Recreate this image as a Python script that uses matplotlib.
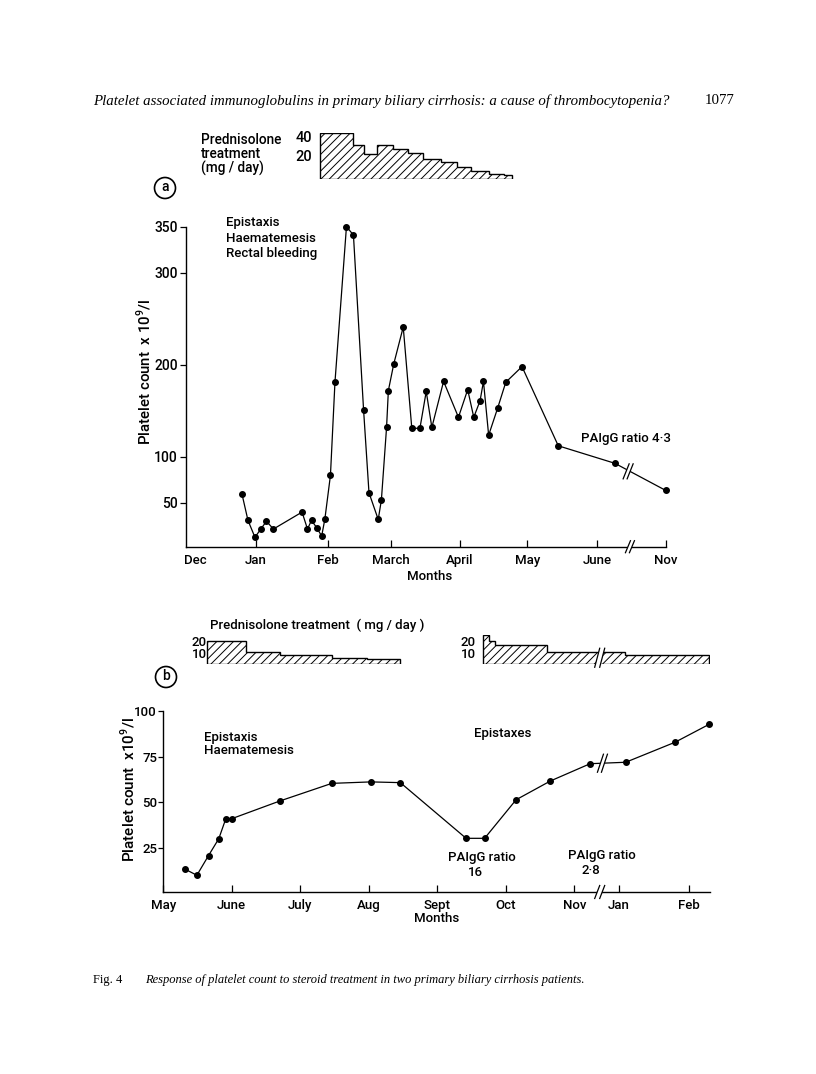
import numpy as np
import matplotlib
matplotlib.use("Agg")
import matplotlib.pyplot as plt
from matplotlib.lines import Line2D
from matplotlib.patches import Polygon, Circle
from matplotlib.transforms import IdentityTransform

plt.rcParams['font.family'] = ['Roboto', 'DejaVu Sans']
plt.rcParams['font.weight'] = 'medium'
plt.rcParams['font.size'] = 9.5
plt.rcParams['mathtext.fontset'] = 'custom'
plt.rcParams['mathtext.rm'] = 'Roboto:medium'
plt.rcParams['hatch.linewidth'] = 0.7

# ---------------- data: panel a (x = days since 1 Dec) ----------------
a_month_labels = ["Jan", "Feb", "March", "April", "May", "June", "Nov"]
a_month_pos = [31, 63, 91, 121.5, 151.5, 182.5, 213]
a_days = [24.8, 27.5, 30.6, 33.2, 35.7, 38.8, 51.5, 53.9, 55.7, 58.0, 60.2, 61.6,
          64.1, 66.1, 71.2, 74.3, 78.8, 81.2, 85.3, 86.7, 89.0, 89.8, 92.2, 96.4,
          100.2, 103.8, 106.6, 109.1, 114.3, 120.9, 125.0, 127.7, 130.5, 132.0, 134.3, 138.3,
          141.9, 149.1, 165.2, 190.3, 212.9]
a_platelets = [60, 31, 12.6, 21.6, 30, 21.6, 40, 21.6, 31, 23, 14, 32,
               80, 181, 350, 341, 151, 61, 32, 53, 132, 172, 201, 241,
               131, 131, 171, 132, 182, 143, 173, 143, 161, 182, 123.5, 153,
               181, 198, 112, 93, 63.5]
a_yticks = [50, 100, 200, 300, 350]
a_break_day = 197.0
a_pred_edges = [59.5, 74.0, 78.8, 84.7, 91.8, 98.3, 105.3, 113.3, 120.1, 126.3, 134.3, 141.1, 144.6]
a_pred_dose = [40, 30, 22, 30, 26, 23, 18, 15, 11, 7.5, 4.6, 3.5]

# ---------------- data: panel b (x = months since 1 May) ----------------
b_month_labels = ["May", "June", "July", "Aug", "Sept", "Oct", "Nov", "Jan", "Feb"]
b_month_pos = [0, 1, 2, 3, 4, 5, 6, 6.65, 7.67]
b_months = [0.32, 0.49, 0.66, 0.81, 0.91, 1.0, 1.70, 2.46, 3.03, 3.46, 4.42, 4.69,
            5.15, 5.65, 6.23, 6.75, 7.47, 7.97]
b_platelets = [13.2, 9.9, 20.7, 30, 40.7, 41, 50.7, 60.4, 61.2, 60.8, 30.2, 30.2,
               51.4, 61.7, 71.2, 72, 83, 92.9]
b_yticks = [25, 50, 75, 100]
b_break_month = 6.41
b_pred1_edges = [0.64, 1.21, 1.71, 2.46, 2.98, 3.45]
b_pred1_dose = [20, 10, 7.5, 5, 3.5]
b_pred2_edges = [4.67, 4.75, 4.84, 5.60, 6.74, 7.96]
b_pred2_dose = [25, 20, 16, 10, 7.5]

W, H = 816, 1074
fig = plt.figure(figsize=(W / 100, H / 100), dpi=100)
fig.patch.set_facecolor('white')


def fx(px):
    return px / W


def fy(py):
    return 1 - py / H


def ftext(px, py, s, **kw):
    kw.setdefault('va', 'center')
    fig.text(fx(px), fy(py), s, **kw)


def step_polygon(edges, levels):
    verts = [(edges[0], 0)]
    for i, lv in enumerate(levels):
        verts.append((edges[i], lv))
        verts.append((edges[i + 1], lv))
    verts.append((edges[-1], 0))
    return verts


def add_pred(ax, edges, levels):
    ax.add_patch(Polygon(step_polygon(edges, levels), closed=True, facecolor='none',
                         edgecolor='black', hatch='////', lw=1.0))


def break_pair(X, Y, gap=4, w=3, h=7, lw=0.9):
    poly = Polygon([(X - gap / 2 - w, Y - h), (X + gap / 2 - w, Y - h),
                    (X + gap / 2 + w, Y + h), (X - gap / 2 + w, Y + h)], closed=True,
                   facecolor='white', edgecolor='none', transform=IdentityTransform(), zorder=5)
    fig.add_artist(poly)
    for dx in (-gap / 2, gap / 2):
        fig.add_artist(Line2D([X + dx - w, X + dx + w], [Y - h, Y + h], color='black', lw=lw,
                              transform=IdentityTransform(), zorder=6))


def style_axes(ax):
    for s in ['top', 'right']:
        ax.spines[s].set_visible(False)
    for s in ['left', 'bottom']:
        ax.spines[s].set_linewidth(1.0)
    ax.tick_params(axis='x', direction='in', length=5, width=0.9, pad=5, labelsize=9.5)
    ax.tick_params(axis='y', direction='out', length=4.5, width=0.9, pad=1.5, labelsize=10)


# ================= panel a =================
axa = fig.add_axes([fx(186), fy(546.7), (666 - 186) / W, (546.7 - 226.7) / H])
axa.set_xlim(0, 213)
axa.set_ylim(2.4, 350)
style_axes(axa)
axa.set_yticks(a_yticks)
axa.set_xticks(a_month_pos)
axa.set_xticklabels(a_month_labels)
axa.set_xticks([4], minor=True)
axa.set_xticklabels(["Dec"], minor=True)
axa.tick_params(axis='x', which='minor', length=0, pad=5, labelsize=9.5)
axa.plot(a_days, a_platelets, color='black', lw=0.9, marker='o', ms=4, clip_on=False)

# panel a prednisolone
axpa = fig.add_axes([fx(186), fy(179.3), (666 - 186) / W, 46 / H])
axpa.set_xlim(0, 213)
axpa.set_ylim(0, 40)
axpa.axis('off')
add_pred(axpa, a_pred_edges, a_pred_dose)

# ================= panel b =================
axb = fig.add_axes([fx(163.3), fy(892), (710 - 163.3) / W, (892 - 711.3) / H])
axb.set_xlim(0, 7.98)
axb.set_ylim(0.7, 100)
style_axes(axb)
axb.tick_params(axis='y', length=3.5, pad=1, labelsize=9.5)
axb.set_yticks(b_yticks)
axb.set_xticks(b_month_pos)
axb.set_xticklabels(b_month_labels)
axb.plot(b_months, b_platelets, color='black', lw=0.9, marker='o', ms=4, clip_on=False)

axpb = fig.add_axes([fx(163.3), fy(663.5), (710 - 163.3) / W, 28.75 / H])
axpb.set_xlim(0, 7.98)
axpb.set_ylim(0, 25)
axpb.axis('off')
add_pred(axpb, b_pred1_edges, b_pred1_dose)
add_pred(axpb, b_pred2_edges, b_pred2_dose)

# ---- break marks (computed from data positions) ----
fig.canvas.draw()
yl = np.interp(a_break_day, a_days, a_platelets)
X, Y = axa.transData.transform((a_break_day - 0.8, yl))
break_pair(X, Y, gap=4, w=3, h=7.5)
X, Y = axa.get_xaxis_transform().transform((a_break_day, 0))
break_pair(X, Y, gap=4, w=2.5, h=6)
yl = np.interp(b_break_month, b_months, b_platelets)
X, Y = axb.transData.transform((b_break_month, yl))
break_pair(X, Y, gap=4, w=3, h=9)
X, Y = axb.get_xaxis_transform().transform((b_break_month - 0.04, 0))
break_pair(X, Y, gap=5, w=2.5, h=6.5)
X, Y = axpb.transData.transform((b_break_month - 0.04, 5))
break_pair(X, Y, gap=5, w=2.5, h=9.5)

# ================= texts =================
serif = ['Liberation Serif', 'DejaVu Serif']
ftext(93, 101, "Platelet associated immunoglobulins in primary biliary cirrhosis: a cause of thrombocytopenia?",
      family=serif, style='italic', weight='normal', fontsize=10.7, ha='left')
ftext(735, 101, "1077", family=serif, weight='normal', fontsize=10.7, ha='right')

ftext(93, 980, "Fig. 4", family=serif, weight='normal', fontsize=9, ha='left')
ftext(145, 980, "Response of platelet count to steroid treatment in two primary biliary cirrhosis patients.",
      family=serif, style='italic', weight='normal', fontsize=9, ha='left')

# panel a prednisolone labels
ftext(201, 140, "Prednisolone", ha='left', fontsize=9.8)
ftext(201, 154, "treatment", ha='left', fontsize=9.8)
ftext(201, 168, "(mg / day)", ha='left', fontsize=9.8)
ftext(312, 138, "40", ha='right', fontsize=10.5)
ftext(312, 157, "20", ha='right', fontsize=10.5)

for (cx, cy, lab) in [(165, 188, "a"), (166, 677, "b")]:
    fig.add_artist(Circle((cx / 100, (H - cy) / 100), 0.105, transform=fig.dpi_scale_trans,
                          facecolor='none', edgecolor='black', lw=1.2))
    ftext(cx, cy - 1, lab, ha='center', fontsize=10)

ftext(226, 222, "Epistaxis", ha='left')
ftext(226, 238, "Haematemesis", ha='left')
ftext(226, 254, "Rectal bleeding", ha='left')
ftext(626, 439, "PAIgG ratio 4·3", ha='center')
ftext(430, 576, "Months", ha='center')
ftext(144, 372, "Platelet count  x 10$^{9}$/l", rotation=90, ha='center', fontsize=10.8)

# panel b labels
ftext(317, 625, "Prednisolone treatment  ( mg / day )", ha='center')
ftext(207, 643, "20", ha='right')
ftext(207, 655, "10", ha='right')
ftext(476, 642, "20", ha='right')
ftext(476, 654, "10", ha='right')

ftext(204, 737, "Epistaxis", ha='left')
ftext(204, 751, "Haematemesis", ha='left')
ftext(503, 733, "Epistaxes", ha='center')
ftext(482, 857, "PAIgG ratio", ha='center')
ftext(475, 872, "16", ha='center')
ftext(602, 856, "PAIgG ratio", ha='center')
ftext(591, 871, "2·8", ha='center')
ftext(437, 919, "Months", ha='center')
ftext(128, 790, "Platelet count  x10$^{9}$/l", rotation=90, ha='center', fontsize=11)

fig.savefig("out.png", dpi=100, facecolor='white')
